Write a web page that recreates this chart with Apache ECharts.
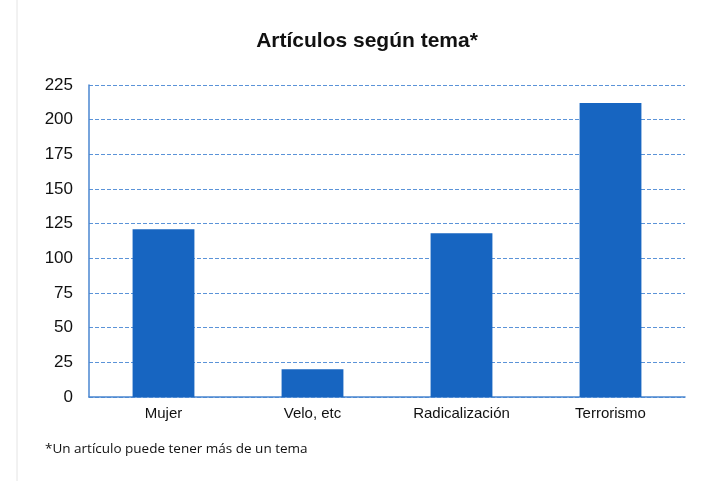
<!DOCTYPE html>
<html>
<head>
<meta charset="utf-8">
<script src="https://cdn.jsdelivr.net/npm/echarts@6/dist/echarts.min.js"></script>
<style>
  html, body { margin: 0; padding: 0; background: #fff; }
  #chart { width: 705px; height: 481px; }
</style>
</head>
<body>
<div id="chart"></div>
<script>
// Article counts per topic
const categories = ['Mujer', 'Velo, etc', 'Radicalización', 'Terrorismo'];
const articles = [121, 20, 118, 212];
const yTicks = { min: 0, max: 225, interval: 25 };

const chart = echarts.init(document.getElementById('chart'), null, { renderer: 'canvas' });

chart.setOption({
  backgroundColor: '#ffffff',
  animation: false,
  title: {
    text: 'Artículos según tema*',
    left: 362,
    textAlign: 'center',
    top: 26,
    textStyle: { fontFamily: 'Liberation Sans', fontWeight: 'bold', fontSize: 21, color: '#111' }
  },
  grid: { left: 89, right: 20, top: 85, bottom: 84, containLabel: false },
  xAxis: {
    type: 'category',
    data: categories,
    axisLine: { show: true, lineStyle: { color: '#4a86d0', width: 1.5 } },
    axisTick: { show: false },
    axisLabel: { fontFamily: 'Liberation Sans', fontSize: 15, color: '#111', margin: 9 }
  },
  yAxis: {
    type: 'value',
    min: yTicks.min,
    max: yTicks.max,
    interval: yTicks.interval,
    axisLine: { show: true, lineStyle: { color: '#4a86d0', width: 1.5 } },
    axisTick: { show: false },
    axisLabel: { fontFamily: 'Liberation Sans', fontSize: 17, color: '#111', margin: 16 },
    splitLine: { show: true, lineStyle: { color: '#5b93d8', type: [4, 2], width: 1 } }
  },
  series: [{
    type: 'bar',
    data: articles,
    barWidth: '41.5%',
    itemStyle: { color: '#1765c1' }
  }],
  graphic: [
    {
      type: 'text',
      left: 45,
      top: 442,
      style: { text: '*Un artículo puede tener más de un tema', font: '13.5px "Open Sans"', fill: '#111' }
    },
    {
      type: 'line',
      shape: { x1: 17, y1: 0, x2: 17, y2: 481 },
      style: { stroke: '#e4e4e4', lineWidth: 1 }
    }
  ]
});
</script>
</body>
</html>
